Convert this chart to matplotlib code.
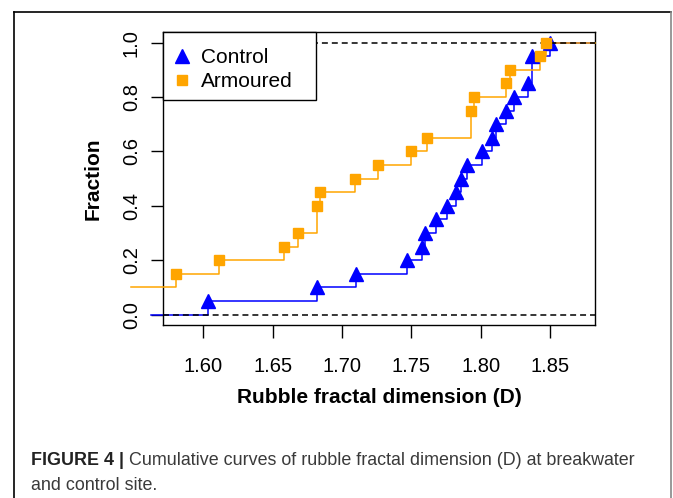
import matplotlib
matplotlib.use("Agg")
import matplotlib.pyplot as plt
from matplotlib.lines import Line2D
from matplotlib.patches import Rectangle
import numpy as np

# rubble fractal dimension samples
CONTROL_D = [1.603, 1.682, 1.710, 1.747, 1.758, 1.760, 1.768, 1.776, 1.782, 1.786,
             1.790, 1.801, 1.808, 1.811, 1.818, 1.824, 1.834, 1.837, 1.837, 1.850]
# first two armoured values lie left of the plotted range
ARMOURED_D = [1.530, 1.540, 1.580, 1.611, 1.658, 1.668, 1.682, 1.682, 1.684, 1.709,
              1.726, 1.750, 1.761, 1.793, 1.793, 1.795, 1.818, 1.821, 1.843, 1.847]

SERIES = ["Control", "Armoured"]
X_TICKS = [1.60, 1.65, 1.70, 1.75, 1.80, 1.85]
Y_TICKS = [0.0, 0.2, 0.4, 0.6, 0.8, 1.0]

XLIM = (1.5709, 1.8824)
YLIM = (-0.038, 1.039)

BLUE = "#0000FF"
ORANGE = "#FFA500"
FONT = ["Liberation Sans", "DejaVu Sans"]

W, H = 673, 498


def ecdf(values):
    v = np.sort(np.asarray(values))
    knots, counts = np.unique(v, return_counts=True)
    frac = np.cumsum(counts) / len(v)
    return v, knots, frac


def draw_ecdf(ax, values, start, color, marker, ms, z):
    v, knots, frac = ecdf(values)
    f_start = np.searchsorted(v, start, side="right") / len(v)
    keep = knots >= start
    xs = np.concatenate([[start], knots[keep], [XLIM[1]]])
    ys = np.concatenate([[f_start], frac[keep], [frac[-1]]])
    ax.plot(xs, ys, drawstyle="steps-post", color=color, lw=1.1,
            clip_on=False, zorder=z)
    ax.plot(knots, frac, ls="none", marker=marker, ms=ms, color=color,
            mec=color, zorder=z + 2)


def main():
    plt.rcParams["font.family"] = FONT
    fig = plt.figure(figsize=(W / 100, H / 100), dpi=100)
    ax = fig.add_axes([163 / W, 1 - 325 / H, 432 / W, 293 / H])

    draw_ecdf(ax, CONTROL_D, 1.5619, BLUE, "^", 10, 2)
    draw_ecdf(ax, ARMOURED_D, 1.5475, ORANGE, "s", 7, 3)

    for yy in (0.0, 1.0):
        ax.axhline(yy, color="black", lw=1.1, ls=(0, (3.9, 2.6)), zorder=4.5)

    ax.set_xlim(XLIM)
    ax.set_ylim(YLIM)
    ax.set_xticks(X_TICKS)
    ax.set_xticklabels(["%.2f" % t for t in X_TICKS])
    ax.set_yticks(Y_TICKS)
    ax.set_yticklabels(["%.1f" % t for t in Y_TICKS])
    ax.tick_params(axis="both", length=9, width=1.0, labelsize=14.5)
    ax.tick_params(axis="x", pad=14)
    ax.tick_params(axis="y", labelrotation=90, pad=7)
    for lab in ax.get_yticklabels():
        lab.set_va("center")
    for s in ax.spines.values():
        s.set_linewidth(1.0)

    ax.set_xlabel("Rubble fractal dimension (D)", fontsize=15, fontweight="bold")
    ax.xaxis.set_label_coords(0.5, -0.215)
    ax.set_ylabel("Fraction", fontsize=15, fontweight="bold")
    ax.yaxis.set_label_coords(-0.14, 0.5)

    # legend box
    ax.add_patch(Rectangle((0, 1 - 68 / 293), 153 / 432, 68 / 293,
                           transform=ax.transAxes, facecolor="white",
                           edgecolor="black", lw=1.0, zorder=8, clip_on=False))
    handles = [Line2D([], [], ls="none", marker="^", ms=10, color=BLUE),
               Line2D([], [], ls="none", marker="s", ms=7, color=ORANGE)]
    leg = ax.legend(handles, SERIES, loc="center left",
                    bbox_to_anchor=(0.02, 0.872), frameon=False, fontsize=15,
                    borderpad=0, handlelength=1.0, handletextpad=0.4,
                    labelspacing=0.23, borderaxespad=0)
    leg.set_zorder(9)

    # outer frame
    fx0, fx1, fy0 = 14 / W, 671 / W, 1 - 12.3 / H
    fig.add_artist(Line2D([fx0, fx1], [fy0, fy0], color="black", lw=1.2,
                          transform=fig.transFigure))
    fig.add_artist(Line2D([fx0, fx0], [fy0, 0], color="black", lw=1.2,
                          transform=fig.transFigure))
    fig.add_artist(Line2D([fx1, fx1], [fy0, 0], color="#888888", lw=1.2,
                          transform=fig.transFigure))

    # caption
    cy1, cy2 = 1 - 460 / H, 1 - 485 / H
    t1 = fig.text(31 / W, cy1, "FIGURE 4 |", fontsize=12.9, fontweight="bold",
                  color="#222222", va="center")
    fig.canvas.draw()
    bb = t1.get_window_extent(fig.canvas.get_renderer())
    fig.text(bb.x1 / W, cy1,
             " Cumulative curves of rubble fractal dimension (D) at breakwater",
             fontsize=12.9, color="#3a3a3a", va="center")
    fig.text(31 / W, cy2, "and control site.", fontsize=12.9, color="#3a3a3a",
             va="center")

    fig.savefig("out.png", dpi=100)


if __name__ == "__main__":
    main()
